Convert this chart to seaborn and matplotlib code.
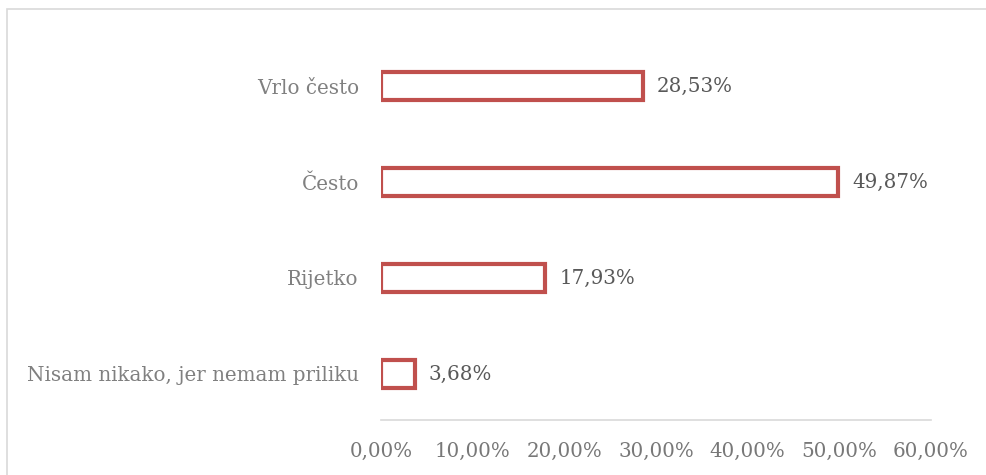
import matplotlib
matplotlib.use("Agg")
import matplotlib.pyplot as plt
import seaborn as sns
import pandas as pd
from matplotlib.patches import Rectangle

categories = ["Vrlo često", "Često", "Rijetko", "Nisam nikako, jer nemam priliku"]
values = [28.53, 49.87, 17.93, 3.68]
tick_values = [0, 10, 20, 30, 40, 50, 60]
tick_labels = ["0,00%", "10,00%", "20,00%", "30,00%", "40,00%", "50,00%", "60,00%"]
value_labels = ["28,53%", "49,87%", "17,93%", "3,68%"]

sns.set_theme(style="white")
plt.rcParams['font.family'] = ['DejaVu Serif']
cat_txt = "#808080"
tick_txt = "#787878"
val_txt = "#595959"
red = "#C0504D"

fig = plt.figure(figsize=(9.87, 4.75), dpi=100)
ax = fig.add_axes([381/987, 1-420/475, (931-381)/987, (420-40)/475])

df = pd.DataFrame({"cat": categories, "val": values})
sns.barplot(data=df, x="val", y="cat", orient="h", ax=ax, width=0.30,
            facecolor="white", edgecolor=red, linewidth=3.0)

ax.set_xlim(0, 60)
ax.set_ylim(3.48, -0.48)
ax.set_xticks(tick_values)
ax.set_xticklabels(tick_labels, fontsize=14.3, color=tick_txt)
ax.tick_params(axis="y", labelsize=14.3, labelcolor=cat_txt, length=0, pad=16)
ax.tick_params(axis="x", length=0, pad=16)
ax.set_xlabel("")
ax.set_ylabel("")
for s in ["top", "right", "left"]:
    ax.spines[s].set_visible(False)
ax.spines["bottom"].set_color("#D9D9D9")
ax.spines["bottom"].set_linewidth(1.2)

texts = ax.bar_label(ax.containers[0], labels=value_labels, padding=10, fontsize=14.3, color=val_txt)
for t in texts:
    t.set_va("center")
    t.set_y(t.get_position()[1])

fig.patches.append(Rectangle((7/987, -0.1), 1.2, 1 - 9/475 + 0.1, transform=fig.transFigure,
                             fill=False, edgecolor="#D9D9D9", linewidth=1.2))

fig.savefig("out.png", dpi=100)
